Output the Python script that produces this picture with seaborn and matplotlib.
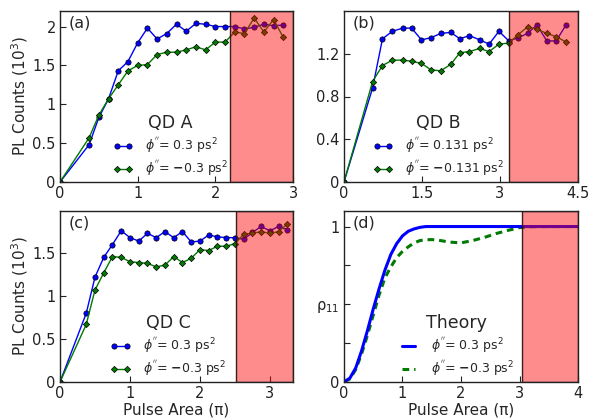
import matplotlib
matplotlib.use("Agg")
import matplotlib.pyplot as plt
import seaborn as sns
import numpy as np
from matplotlib.ticker import FormatStrFormatter

# ---------------- data ----------------
# Panel (a) QD A
a_x = [0, 0.375, 0.5, 0.625, 0.75, 0.875, 1.0, 1.125, 1.25, 1.375, 1.5, 1.625,
       1.75, 1.875, 2.0, 2.125, 2.25, 2.375, 2.5, 2.625, 2.75, 2.875]
a_pos = [0, 0.48, 0.83, 1.07, 1.43, 1.55, 1.79, 1.98, 1.84, 1.91, 2.03, 1.94,
         2.04, 2.03, 2.00, 2.00, 2.00, 1.97, 1.99, 2.03, 2.01, 2.02]
a_neg = [0, 0.57, 0.86, 1.07, 1.25, 1.43, 1.50, 1.51, 1.64, 1.67, 1.67, 1.70,
         1.74, 1.70, 1.80, 1.80, 1.93, 1.91, 2.11, 1.93, 2.09, 1.86]

# Panel (b) QD B
b_x = [0, 0.55, 0.74, 0.93, 1.13, 1.30, 1.49, 1.67, 1.86, 2.05, 2.23, 2.41,
       2.61, 2.79, 2.98, 3.17, 3.35, 3.53, 3.71, 3.90, 4.08, 4.27]
b_pos = [0, 0.88, 1.34, 1.41, 1.44, 1.44, 1.33, 1.35, 1.39, 1.40, 1.34, 1.37,
         1.33, 1.29, 1.41, 1.32, 1.35, 1.39, 1.47, 1.32, 1.32, 1.47]
b_neg = [0, 0.94, 1.09, 1.14, 1.14, 1.13, 1.11, 1.05, 1.04, 1.10, 1.21, 1.22,
         1.25, 1.22, 1.29, 1.30, 1.38, 1.45, 1.43, 1.39, 1.36, 1.31]

# Panel (c) QD C
c_x = [0, 0.375, 0.5, 0.625, 0.75, 0.875, 1.0, 1.125, 1.25, 1.375, 1.5, 1.625,
       1.75, 1.875, 2.0, 2.125, 2.25, 2.375, 2.5, 2.625, 2.75, 2.875, 3.0,
       3.125, 3.25]
c_pos = [0, 0.80, 1.22, 1.45, 1.60, 1.76, 1.68, 1.64, 1.73, 1.68, 1.75, 1.68,
         1.75, 1.63, 1.64, 1.71, 1.69, 1.68, 1.68, 1.66, 1.74, 1.81, 1.76,
         1.81, 1.77]
c_neg = [0, 0.67, 1.07, 1.27, 1.46, 1.45, 1.40, 1.39, 1.38, 1.34, 1.36, 1.46,
         1.39, 1.44, 1.54, 1.53, 1.58, 1.58, 1.61, 1.72, 1.73, 1.75, 1.73,
         1.75, 1.84]

# Panel (d) theory
d_x = [0, 0.1, 0.2, 0.3, 0.4, 0.5, 0.6, 0.7, 0.8, 0.9, 1.0, 1.1, 1.2, 1.3,
       1.4, 1.5, 1.6, 1.8, 2.0, 2.2, 2.4, 2.6, 2.8, 3.0, 3.2, 3.5, 4.0]
d_pos = [0, 0.025, 0.09, 0.20, 0.33, 0.47, 0.60, 0.72, 0.82, 0.89, 0.94,
         0.97, 0.985, 0.995, 1.0, 1.0, 1.0, 1.0, 1.0, 1.0, 1.0, 1.0, 1.0,
         1.0, 1.0, 1.0, 1.0]
d_neg = [0, 0.02, 0.08, 0.18, 0.30, 0.43, 0.56, 0.67, 0.74, 0.80, 0.84,
         0.87, 0.895, 0.91, 0.915, 0.916, 0.913, 0.90, 0.895, 0.91, 0.93,
         0.955, 0.975, 0.993, 0.999, 1.0, 1.0]

span_a = (2.19, 3.0)
span_b = (3.175, 4.5)
span_c = (2.52, 3.33)
span_d = (3.04, 4.0)

lab_pos_ac = r"$\phi^{''}$= 0.3 ps$^2$"
lab_neg_ac = r"$\phi^{''}$= $\mathbf{-}$0.3 ps$^2$"
lab_pos_b = r"$\phi^{''}$= 0.131 ps$^2$"
lab_neg_b = r"$\phi^{''}$= $\mathbf{-}$0.131 ps$^2$"

# ---------------- style ----------------
sns.set_style("ticks")
plt.rcParams["font.family"] = ["DejaVu Sans"]
plt.rcParams["axes.edgecolor"] = "#222222"
plt.rcParams["axes.linewidth"] = 1.0
plt.rcParams["xtick.direction"] = "in"
plt.rcParams["ytick.direction"] = "in"
plt.rcParams["xtick.major.size"] = 4
plt.rcParams["ytick.major.size"] = 4
plt.rcParams["xtick.labelsize"] = 10.5
plt.rcParams["ytick.labelsize"] = 10.5
plt.rcParams["xtick.color"] = "#222222"
plt.rcParams["ytick.color"] = "#222222"

BLUE = "#0000ff"
GREEN = "#007a00"

fig = plt.figure(figsize=(5.98, 4.2), dpi=100)
W, H = 598.0, 420.0


def add_ax(l, r, t, b):
    return fig.add_axes([l / W, 1 - b / H, (r - l) / W, (b - t) / H])


ax_a = add_ax(60, 293, 11, 182)
ax_b = add_ax(344, 578, 11, 182)
ax_c = add_ax(60, 293, 211, 382)
ax_d = add_ax(344, 578, 211, 382)


def data_panel(ax, x, yp, yn, lp, ln):
    sns.lineplot(x=x, y=yp, ax=ax, color=BLUE, lw=1.0, marker="o",
                 markersize=3.8, markeredgecolor="k", markeredgewidth=0.5,
                 label=lp, zorder=3, clip_on=True)
    sns.lineplot(x=x, y=yn, ax=ax, color=GREEN, lw=1.0, marker="D",
                 markersize=3.2, markeredgecolor="k", markeredgewidth=0.5,
                 label=ln, zorder=3, clip_on=True)


data_panel(ax_a, a_x, a_pos, a_neg, lab_pos_ac, lab_neg_ac)
data_panel(ax_b, b_x, b_pos, b_neg, lab_pos_b, lab_neg_b)
data_panel(ax_c, c_x, c_pos, c_neg, lab_pos_ac, lab_neg_ac)

sns.lineplot(x=d_x, y=d_pos, ax=ax_d, color=BLUE, lw=2.2, label=lab_pos_ac,
             zorder=3)
sns.lineplot(x=d_x, y=d_neg, ax=ax_d, color=GREEN, lw=2.2, ls=(0, (2.2, 1.6)),
             label=lab_neg_ac, zorder=2)

for ax, sp in [(ax_a, span_a), (ax_b, span_b), (ax_c, span_c), (ax_d, span_d)]:
    ax.axvspan(sp[0], sp[1], facecolor=(1, 0, 0, 0.45),
               edgecolor=(0.15, 0.05, 0.05, 0.9), lw=1.0, zorder=5)

# limits / ticks
ax_a.set_xlim(0, 3)
ax_a.set_ylim(0, 2.2)
ax_a.set_xticks([0, 1, 2, 3])
ax_a.set_yticks([0, 0.5, 1, 1.5, 2])

ax_b.set_xlim(0, 4.5)
ax_b.set_ylim(0, 1.6)
ax_b.set_xticks([0, 1.5, 3, 4.5])
ax_b.set_yticks([0, 0.4, 0.8, 1.2])

ax_c.set_xlim(0, 3.33)
ax_c.set_ylim(0, 1.99)
ax_c.set_xticks([0, 1, 2, 3])
ax_c.set_yticks([0, 0.5, 1, 1.5])

ax_d.set_xlim(0, 4)
ax_d.set_ylim(0, 1.1)
ax_d.set_xticks([0, 1, 2, 3, 4])
ax_d.set_yticks([0, 0.25, 0.5, 0.75, 1])

for ax in [ax_a, ax_b, ax_c]:
    ax.xaxis.set_major_formatter(FormatStrFormatter("%g"))
    ax.yaxis.set_major_formatter(FormatStrFormatter("%g"))
ax_d.xaxis.set_major_formatter(FormatStrFormatter("%g"))
ax_d.set_yticklabels(["0", "", "ρ$_{11}$", "", "1"])

for ax in [ax_a, ax_b, ax_c, ax_d]:
    ax.tick_params(top=False, right=False, pad=3)
    for s in ax.spines.values():
        s.set_visible(True)
        s.set_zorder(6)
    ax.set_xlabel("")
    ax.set_ylabel("")

ax_a.set_ylabel("PL Counts (10$^3$)", fontsize=11, labelpad=2)
ax_c.set_ylabel("PL Counts (10$^3$)", fontsize=11, labelpad=2)
ax_c.set_xlabel("Pulse Area (π)", fontsize=11, labelpad=1)
ax_d.set_xlabel("Pulse Area (π)", fontsize=11, labelpad=1)

for ax, t in [(ax_a, "(a)"), (ax_b, "(b)"), (ax_c, "(c)"), (ax_d, "(d)")]:
    ax.text(0.035, 0.975, t, transform=ax.transAxes, ha="left", va="top",
            fontsize=11.5, zorder=7)

# legends
leg_specs = [(ax_a, "QD A", 0.475), (ax_b, "QD B", 0.405),
             (ax_c, "QD C", 0.465), (ax_d, "Theory", 0.48)]
for ax, title, cx in leg_specs:
    leg = ax.legend(title=title, loc="center", bbox_to_anchor=(cx, 0.21),
                    frameon=False, fontsize=9, title_fontsize=12.5,
                    handlelength=1.6, handletextpad=1.0, labelspacing=0.3,
                    borderpad=0.1, numpoints=2)
    leg.set_zorder(4)

fig.savefig("out.png", dpi=100)
